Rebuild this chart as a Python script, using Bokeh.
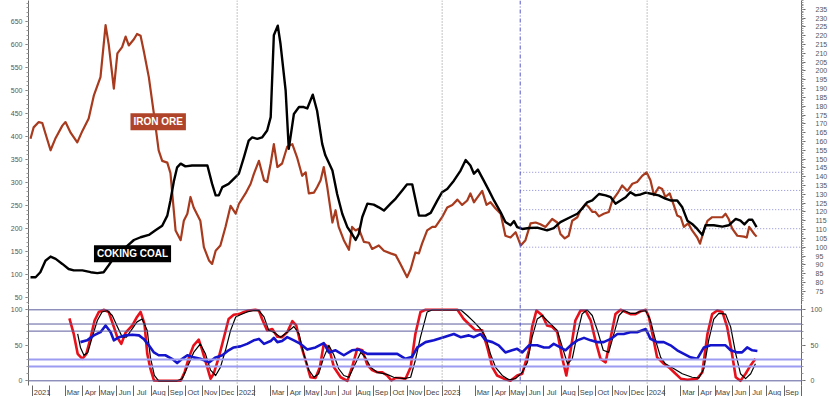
import numpy as np
import pandas as pd
from bokeh.plotting import figure
from bokeh.layouts import column
from bokeh.models import Range1d, LinearAxis, FixedTicker, Span, Label
from bokeh.embed import file_html
from bokeh.resources import INLINE

# ---------------- data (weekly series, week offsets from the first bar) ----------------
FIRST_BAR = pd.Timestamp("2020-12-29")

coal_weeks = [0.0,1.3,2.5,3.8,5.1,6.4,8.1,9.7,11.0,13.2,
              15.3,17.0,18.6,19.9,21.6,24.2,26.3,28.0,30.1,31.8,
              33.5,34.8,35.6,36.5,37.3,38.2,39.4,41.1,43.2,45.0,
              46.2,47.1,47.9,48.8,50.4,51.7,53.0,54.3,55.5,56.4,
              57.7,58.9,60.2,61.1,61.9,62.9,63.6,64.9,65.7,67.0,
              68.3,69.5,70.4,71.8,72.9,74.2,75.0,76.8,78.0,79.3,
              80.6,81.8,82.7,83.5,84.4,85.7,87.3,88.6,89.9,91.6,
              92.9,94.6,95.8,97.1,98.8,100.5,101.8,103.5,104.7,106.0,
              107.7,109.4,110.7,111.9,112.8,113.8,115.3,116.6,117.9,119.6,
              120.8,122.1,123.0,123.8,125.1,126.8,128.9,131.4,133.1,134.8,
              137.4,139.1,140.3,141.6,142.9,144.6,146.3,147.6,148.8,150.1,
              151.4,152.6,153.9,155.2,156.5,158.2,159.8,161.5,162.8,164.5,
              165.8,167.1,168.3,169.6,170.9,171.7,173.8,176.0,177.6,179.4,
              180.6,181.6,182.7,183.6,184.7]
coal_vals = [94,94,105,130,139,134,123,112,109,109,
             105,103,105,120,141,159,175,181,186,196,
             206,228,261,304,333,341,335,337,337,337,
             297,272,272,290,297,308,319,355,391,398,
             395,398,413,442,620,641,601,500,373,449,
             464,464,461,491,456,384,359,326,275,232,
             203,188,175,188,225,254,252,246,239,254,
             265,283,296,296,228,228,234,261,279,286,
             304,326,349,337,319,328,304,283,261,235,
             214,207,216,203,199,201,202,196,201,214,
             225,232,243,257,261,275,272,268,254,261,
             268,279,272,274,278,275,272,265,261,261,
             246,217,210,199,186,207,207,204,207,221,
             217,209,219,219,203]

iron_weeks = [0.0,0.8,2.1,3.0,3.8,5.1,6.4,8.1,8.9,10.2,
              11.9,13.2,14.8,16.1,17.8,19.1,19.9,21.2,22.1,23.3,
              24.2,25.0,26.3,27.1,28.0,28.8,30.1,31.4,32.6,33.5,
              34.8,35.6,36.9,38.2,39.0,39.9,40.7,41.5,43.2,44.1,
              45.4,46.2,47.1,48.3,49.6,50.9,52.2,53.0,54.7,56.0,
              56.8,58.1,59.4,60.2,61.1,61.9,62.8,64.0,65.3,66.6,
              67.8,69.1,70.0,70.8,72.1,72.9,73.8,74.6,75.5,76.8,
              77.6,78.4,79.7,81.0,81.8,82.7,83.5,84.8,86.1,86.9,
              88.6,89.9,91.6,92.9,94.1,95.8,96.7,97.9,98.8,99.6,
              100.9,102.2,103.0,104.7,106.0,107.3,108.6,109.8,111.1,111.9,
              112.8,113.6,114.9,116.0,117.0,118.3,119.6,120.8,122.1,123.4,
              124.7,125.9,127.2,128.5,129.7,131.0,132.7,134.0,134.8,135.9,
              136.9,137.8,139.1,139.9,141.2,142.1,142.9,143.7,144.6,145.8,
              147.1,148.0,149.3,150.5,151.8,153.1,154.3,155.6,156.7,157.7,
              158.6,159.8,160.7,161.5,162.6,163.7,164.5,165.4,166.2,167.3,
              168.3,169.6,170.3,171.3,172.2,173.4,174.7,176.0,176.8,177.6,
              178.5,179.8,181.5,182.2,182.8,184.1,184.7]
iron_vals = [161.5,168,171,170.5,164.5,155,162,169,171,165,
             159.5,166,173,186,196.5,226,215,190,210,213.5,
             219.5,214.5,218,221,220,211.5,196.5,175.5,155,149,
             148,142,109.5,104,115,119,128.5,122.5,115,100,
             92.5,90.5,98,101,111.5,123.5,119,124.5,130.5,136,
             141.5,149,138,137,147.5,158.5,145.5,147.5,157,158.5,
             151,140.5,142.5,130.5,131,134,138,145.5,134,114,
             121,111.5,104,98.5,111.5,109.5,110.5,103,102.5,99,
             101,98,96.5,95.5,90.5,83,87.5,97,96.5,102,
             109.5,111.5,111.5,117,122.5,124,127,124,126.5,130.5,
             125.5,128,132,124,125.5,122,119,106.5,105.5,108.5,
             101,104,113.5,114,113,111.5,116,114,107.5,105,
             106.5,115,117,121,124.5,122.5,120,120,117.5,119,
             120,126.5,130.5,135,132,136,137,140.5,142.5,138,
             129.5,134,133,128.5,130.5,123.5,118,117,111.5,113.5,
             109.5,105.5,102,109.5,115,117,117,117,119,116,
             110.5,106.5,106,105.5,111.5,107.5,106]

# oscillator panel
k_weeks = [9.9,11.0,12.0,13.2,14.2,15.3,16.3,17.4,18.6,19.9,
           21.2,22.1,23.1,24.2,25.9,27.1,28.0,29.0,29.7,30.5,
           31.4,33.1,38.2,39.2,40.3,41.5,42.8,43.7,44.8,45.8,
           46.6,47.9,49.2,50.4,51.7,53.0,54.3,55.5,57.2,58.1,
           58.9,60.2,61.5,62.8,64.0,65.3,66.6,67.6,68.7,70.0,
           71.2,72.5,73.6,74.6,75.9,77.2,78.9,80.6,81.8,83.1,
           84.4,85.7,86.9,88.2,89.5,90.7,91.8,92.9,94.1,95.4,
           96.7,97.9,99.2,100.5,108.6,110.2,111.9,113.2,114.9,116.2,
           117.5,118.7,120.4,122.1,123.8,125.1,126.8,127.6,128.7,130.2,
           131.4,132.7,134.0,135.3,136.3,137.4,138.6,139.9,141.2,142.5,
           143.7,145.0,146.3,147.6,148.8,150.1,151.4,152.6,153.9,155.2,
           156.5,157.3,158.2,159.4,161.1,162.4,163.7,165.4,167.1,169.6,
           170.9,172.2,173.4,174.7,176.0,177.2,178.3,179.4,180.6,181.9,
           183.2,184.4]
k_vals = [88,66,38,31,38,61,85,97,100,97,
          76,61,52,68,78,90,97,80,38,17,
          0.5,0,0,12,33,50,58,43,22,3,
          10,33,61,87,93,94,97,99,100,99,
          87,71,73,62,61.5,68.5,84,78,52,28.5,
          5,4,19,52,47,19,5,0,19,45,
          43,22,15,12,12,7.5,0.5,4,4,3,
          19,66,97,100,100,87,78,71,71,47,
          19,7.5,3,0,7.5,10,43,76,99,92,
          78,76,68.5,31,7.5,43,85,99,99,85,
          57,31,26,61.5,94,100,97,94,94,98,
          100,90,66,33,24,19,12,3,1.5,3,
          12,66,94,99,97,76,43,5,0,10,
          22,31]

d_weeks = [12.0,12.7,13.6,14.6,15.7,17.0,18.2,19.5,20.8,22.1,
           23.3,24.4,25.6,27.1,28.4,29.7,30.5,31.5,32.6,37.3,
           38.6,39.9,41.5,43.2,44.5,45.8,47.1,48.3,49.6,50.9,
           52.2,53.4,55.1,56.8,58.1,59.4,60.6,61.9,63.6,65.3,
           67.0,68.3,69.5,70.8,72.1,73.3,74.6,75.9,77.2,78.4,
           79.7,81.0,82.2,84.0,85.2,86.5,88.2,90.7,92.4,95.0,
           96.7,97.9,99.2,100.9,102.2,109.4,111.1,112.8,114.5,115.8,
           117.0,118.3,120.0,121.7,123.4,125.1,126.4,127.6,128.9,130.2,
           131.4,132.7,134.0,135.3,136.6,137.8,139.1,140.3,141.6,142.9,
           144.2,145.7,147.1,148.4,149.7,150.9,152.6,153.9,155.2,156.5,
           157.7,159.0,160.3,161.5,163.7,165.8,168.3,170.0,171.3,172.5,
           173.8,175.1,176.8,178.1,179.4,180.6,181.9,183.2,184.4]
d_vals = [66,47,36,40,61.5,85,97,99,92,76,
          62,61.5,71,83,87,71,33,7.5,0,0,
          3,19,40,52,38,15,7.5,19,43,71,
          90,93,97,99,99,90,71,68.5,61.5,68.5,
          76.5,66,38,15,5,10,33,50,36,17,
          7.5,5,19,40,33,19,12,9,5,3,
          5,29,61.5,97,100,100,92,83,73,61.5,
          38,19,7.5,1.5,3,12,26,61.5,87,92,
          85,78,71,47,24,31,66,94,100,92,
          71,43,40,66,92,99,95,95,98,99,
          85,57,33,24,17,10,5,4,17,57,
          87,95,94,76,38,10,3,10,24]

rsi_weeks = [12.7,14.4,16.1,17.8,19.1,20.4,21.2,22.5,24.2,25.9,
             27.6,28.8,30.1,31.4,32.6,34.3,36.0,37.3,38.6,39.9,
             41.5,43.2,45.4,47.1,48.8,50.4,51.7,53.4,55.1,56.8,
             58.1,59.4,61.1,61.9,62.8,64.0,65.3,67.0,68.7,70.4,
             72.5,74.6,75.9,77.6,79.7,81.8,83.5,85.7,88.2,90.7,
             93.3,95.4,97.1,98.4,100.5,102.6,105.1,107.7,109.4,111.5,
             112.8,114.5,115.8,117.5,119.1,120.8,122.5,123.8,125.1,126.8,
             128.9,130.6,131.9,133.1,134.8,136.1,137.4,139.1,140.8,142.5,
             144.2,145.8,147.6,149.3,150.9,152.6,154.3,156.5,157.7,159.4,
             161.1,162.8,164.5,166.2,167.9,169.6,171.3,173.0,175.1,176.8,
             178.1,179.8,181.0,182.3,183.6,184.9]
rsi_vals = [54.5,57,64,68.5,78,68.5,57,61.5,64,65,
            64,59,50,40,36,36,31,25,31,36,
            33,31,26,33,36,43,47,48.5,52,57,
            59,52,56,60.5,54.5,56,61.5,57,52,44,
            47,53,40,43,36,43,44,38,38,38,
            38,31,34,47,54.5,57,61.5,66,61.5,64,
            61.5,66,57,54.5,50,40,43,45,40,50,
            50,47,47,52,47,43,50,57,60.5,57,
            54.5,54.5,59,66,66,68.5,68.5,73,59,54.5,
            54.5,50,43,38,33,31,47,50,50,50,
            43,40,40,47,43,42]

# retracement levels (iron ore scale) drawn from the May-2023 low
fib_start = "2023-05-20"
fib_levels = [100.0, 110.5, 121.3, 132.2, 142.5]
year_lines = ["2022-01-01", "2023-01-01", "2024-01-01"]
osc_dark_levels = [100, 80, 70, 0]
osc_light_levels = [30, 20]
month_names = ["Jan", "Feb", "Mar", "Apr", "May", "Jun", "Jul", "Aug", "Sep", "Oct", "Nov", "Dec"]

# ---------------- helpers ----------------
def to_dates(weeks):
    return FIRST_BAR + pd.to_timedelta(np.array(weeks) * 7.0, unit="D")

def ms(ts):
    return int(pd.Timestamp(ts).value // 10**6)

X0 = pd.Timestamp("2020-12-25 10:30")
X1 = pd.Timestamp("2024-10-01 20:40")
FRAME_W = 773
xr = Range1d(X0.to_pydatetime(), X1.to_pydatetime())
px_per_day = FRAME_W / ((X1 - X0).total_seconds() / 86400.0)

FONT = "Liberation Sans"
AX_COL = "#6a6a6a"
LBL_COL = "#555555"

def style_axis(ax, tick_out=3, minor_out=2, standoff=3, size="7px"):
    ax.major_label_text_font = FONT
    ax.major_label_text_font_size = size
    ax.major_label_text_color = LBL_COL
    ax.axis_line_color = AX_COL
    ax.axis_line_width = 1
    ax.major_tick_line_color = AX_COL
    ax.minor_tick_line_color = "#9a9a9a"
    ax.major_tick_in = 0
    ax.major_tick_out = tick_out
    ax.minor_tick_in = 0
    ax.minor_tick_out = minor_out
    ax.major_label_standoff = standoff

# ---------------- top panel ----------------
p1 = figure(frame_width=FRAME_W, frame_height=304, x_range=xr,
            y_range=Range1d(34.78, 695.65), x_axis_type="datetime",
            x_axis_location=None, output_backend="svg", toolbar_location=None,
            min_border_left=28, min_border_right=28, min_border_top=0, min_border_bottom=0,
            background_fill_color="white", border_fill_color="white", outline_line_color=None)
p1.xgrid.visible = False
p1.ygrid.visible = False
p1.extra_y_ranges = {"iron": Range1d(67.48, 240.0)}

ly = p1.yaxis[0]
ly.ticker = FixedTicker(ticks=list(range(50, 700, 50)), minor_ticks=list(range(40, 700, 10)))
style_axis(ly)

ry = LinearAxis(y_range_name="iron",
                ticker=FixedTicker(ticks=list(range(75, 240, 5)), minor_ticks=list(range(70, 241))))
style_axis(ry, tick_out=4, minor_out=2, standoff=10)
p1.add_layout(ry, "right")

for d in year_lines:
    p1.add_layout(Span(location=ms(d), dimension="height", line_color="#888888",
                       line_width=1, line_dash="1 2"))
p1.add_layout(Span(location=ms(fib_start), dimension="height", line_color="#5555c8",
                   line_width=1, line_dash="4 2 1 2"))
for lv in fib_levels:
    p1.segment(x0=[pd.Timestamp(fib_start)], y0=[lv], x1=[X1], y1=[lv],
               y_range_name="iron", line_color="#8a8ad8", line_width=1, line_dash="1 2")

p1.line(to_dates(iron_weeks), iron_vals, y_range_name="iron",
        line_color="#a83a1e", line_width=2.2, line_join="round")
p1.line(to_dates(coal_weeks), coal_vals, line_color="#000000", line_width=2.4, line_join="round")

p1.add_layout(Label(x=ms("2021-06-25"), y=432, text="IRON ORE", text_color="white",
                    text_font=FONT, text_font_style="bold", text_font_size="10px",
                    text_align="left", text_baseline="middle",
                    background_fill_color="#b0442a", padding=3))
p1.add_layout(Label(x=ms("2021-04-21"), y=145, text="COKING COAL", text_color="white",
                    text_font=FONT, text_font_style="bold", text_font_size="10px",
                    text_align="left", text_baseline="middle",
                    background_fill_color="#000000", padding=3))

# ---------------- oscillator panel ----------------
p2 = figure(frame_width=FRAME_W, frame_height=81, x_range=xr,
            y_range=Range1d(-6.6, 107.5), x_axis_type="datetime",
            output_backend="svg", toolbar_location=None,
            min_border_left=28, min_border_right=28, min_border_top=0, min_border_bottom=11,
            background_fill_color="white", border_fill_color="white", outline_line_color=None)
p2.xgrid.visible = False
p2.ygrid.visible = False

ly2 = p2.yaxis[0]
ly2.ticker = FixedTicker(ticks=[0, 50, 100], minor_ticks=list(range(0, 101, 10)))
style_axis(ly2)
ry2 = LinearAxis(ticker=FixedTicker(ticks=[0, 50, 100], minor_ticks=list(range(0, 101, 10))))
style_axis(ry2, tick_out=4, minor_out=2, standoff=5)
p2.add_layout(ry2, "right")

for lv in osc_dark_levels:
    p2.add_layout(Span(location=lv, dimension="width", line_color="#5c5c9e", line_width=1))
for lv in osc_light_levels:
    p2.add_layout(Span(location=lv, dimension="width", line_color="#9c9cf2", line_width=2))
for d in year_lines:
    p2.add_layout(Span(location=ms(d), dimension="height", line_color="#888888",
                       line_width=1, line_dash="1 2"))
p2.add_layout(Span(location=ms(fib_start), dimension="height", line_color="#5555c8",
                   line_width=1, line_dash="4 2 1 2"))

p2.line(to_dates(k_weeks), k_vals, line_color="#e8101a", line_width=2.6, line_join="round")
p2.line(to_dates(d_weeks), d_vals, line_color="#000000", line_width=1.2, line_join="round")
p2.line(to_dates(rsi_weeks), rsi_vals, line_color="#1414cc", line_width=2.6, line_join="round")

# month axis: separators at month starts, labels just right of each separator
month_starts = pd.date_range("2021-01-01", "2024-10-01", freq="MS")
major, overrides = [], {}
for m in month_starts[:-1]:
    if m.month == 2:
        continue
    label = str(m.year) if m.month == 1 else month_names[m.month - 1]
    width_px = 4.2 * len(label)
    t = ms(m + pd.Timedelta(days=(1.5 + width_px / 2.0) / px_per_day))
    major.append(t)
    overrides[t] = label
xa = p2.xaxis[0]
xa.ticker = FixedTicker(ticks=major, minor_ticks=[ms(m) for m in month_starts])
xa.major_label_overrides = overrides
xa.major_label_text_font = FONT
xa.major_label_text_font_size = "7.5px"
xa.major_label_text_color = "#444444"
xa.axis_line_color = None
xa.major_tick_in = 0
xa.major_tick_out = 0
xa.major_tick_line_color = None
xa.minor_tick_in = 0
xa.minor_tick_out = 11
xa.minor_tick_line_color = "#666666"
xa.major_label_standoff = -9

layout = column(p1, p2, spacing=0)
open("out.html", "w").write(file_html(layout, INLINE))
